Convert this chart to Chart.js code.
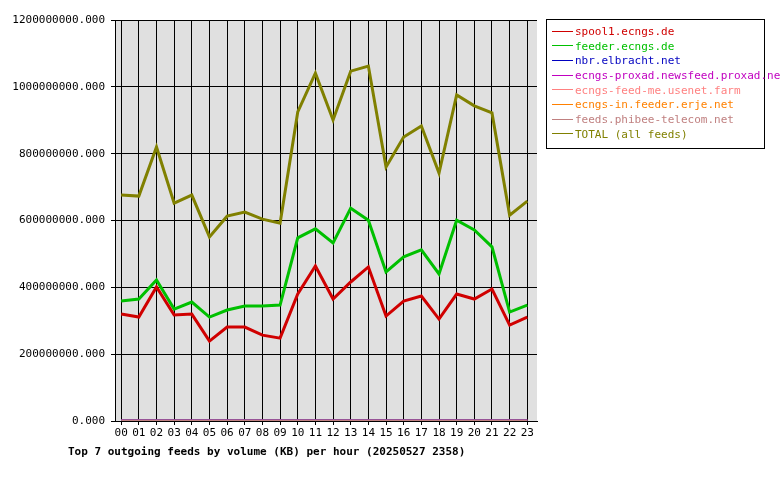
<!DOCTYPE html>
<html><head><meta charset="utf-8">
<script src="https://cdn.jsdelivr.net/npm/chart.js@4/dist/chart.umd.min.js"></script>
<style>
body{margin:0;background:#fff;font-family:"DejaVu Sans Mono",monospace;}
#wrap{position:relative;width:780px;height:480px;}
#legend{position:absolute;left:546px;top:19px;width:219px;height:130px;border:1px solid #000;font-size:11px;box-sizing:border-box;padding:5px 0 0 5px;}
#legend div{height:14.7px;line-height:14.7px;white-space:nowrap;}
#legend span.sw{display:inline-block;width:21px;height:1px;vertical-align:middle;margin-right:2px;position:relative;top:-1px;}
#title{position:absolute;left:68px;top:445px;font-size:11px;font-weight:bold;}
</style></head><body>
<div id="wrap"><canvas id="c" width="780" height="480"></canvas>
<div id="legend"></div>
<div id="title">Top 7 outgoing feeds by volume (KB) per hour (20250527 2358)</div></div>
<script>
const hours=["00","01","02","03","04","05","06","07","08","09","10","11","12","13","14","15","16","17","18","19","20","21","22","23"];
const seriesNames=["spool1.ecngs.de","feeder.ecngs.de","nbr.elbracht.net","ecngs-proxad.newsfeed.proxad.net","ecngs-feed-me.usenet.farm","ecngs-in.feeder.erje.net","feeds.phibee-telecom.net","TOTAL (all feeds)"];
const seriesColors=["#d00000","#00c000","#0000c0","#c000c0","#ff8080","#ff8000","#c08080","#808000"];
const spool1=[320,311,401,317,320,239,281,281,257,248,380,464,365,416,461,314,359,374,305,380,365,395,287,311];
const feeder=[359,365,422,335,356,311,332,344,344,347,548,575,533,637,601,446,491,512,440,601,572,521,326,347];
const nbr=[0,0,0,0,0,0,0,0,0,0,0,0,0,0,0,0,0,0,0,0,0,0,0,0];
const proxad=[0,0,0,0,0,0,0,0,0,0,0,0,0,0,0,0,0,0,0,0,0,0,0,0];
const feedme=[0,0,0,0,0,0,0,0,0,0,0,0,0,0,0,0,0,0,0,0,0,0,0,0];
const erje=[0,0,0,0,0,0,0,0,0,0,0,0,0,0,0,0,0,0,0,0,0,0,0,0];
const phibee=[0,0,0,0,0,0,0,0,0,0,0,0,0,0,0,0,0,0,0,0,0,0,0,0];
const total=[676,673,820,652,676,551,613,625,604,592,925,1041,901,1047,1062,760,850,883,742,976,943,922,616,658];
const all=[spool1,feeder,nbr,proxad,feedme,erje,phibee,total];
const unit=1e6;
const leg=document.getElementById('legend');
seriesNames.forEach((n,i)=>{const d=document.createElement('div');d.style.color=seriesColors[i];d.innerHTML='<span class="sw" style="background:'+seriesColors[i]+'"></span>'+n;leg.appendChild(d);});
const bgPlugin={id:'bg',beforeDraw(c){const a=c.chartArea,x=c.ctx;x.save();x.fillStyle='#e0e0e0';x.fillRect(a.left,a.top,a.right-a.left,a.bottom-a.top);x.restore();}};
const orders=[2,3,4,5,6,7,0,1];
new Chart(document.getElementById('c'),{type:'line',
data:{datasets:all.map((arr,i)=>({label:seriesNames[i],data:arr.map((v,j)=>({x:j,y:v*unit})),borderColor:seriesColors[i],borderWidth:3,pointRadius:0,tension:0,order:orders[i]}))},
plugins:[bgPlugin],
options:{responsive:false,animation:false,layout:{padding:{top:20,right:243,left:0,bottom:0}},
plugins:{legend:{display:false},tooltip:{enabled:false}},
scales:{
x:{type:'linear',min:-0.35,max:23.55,afterFit(s){s.height=59;},
 afterBuildTicks(s){s.ticks=hours.map((h,i)=>({value:i}));},
 ticks:{callback:(v)=>hours[v],color:'#000',font:{family:'DejaVu Sans Mono',size:11},maxRotation:0,autoSkip:false,padding:2},
 grid:{color:'#000',lineWidth:1,tickLength:4},border:{color:'#000'}},
y:{min:0,max:1.2e9,afterFit(s){s.width=115;},
 ticks:{stepSize:2e8,callback:(v)=>v.toFixed(3),color:'#000',font:{family:'DejaVu Sans Mono',size:11},padding:6},
 grid:{color:'#000',lineWidth:1,tickLength:4},border:{color:'#000'}}
}}});
</script></body></html>
